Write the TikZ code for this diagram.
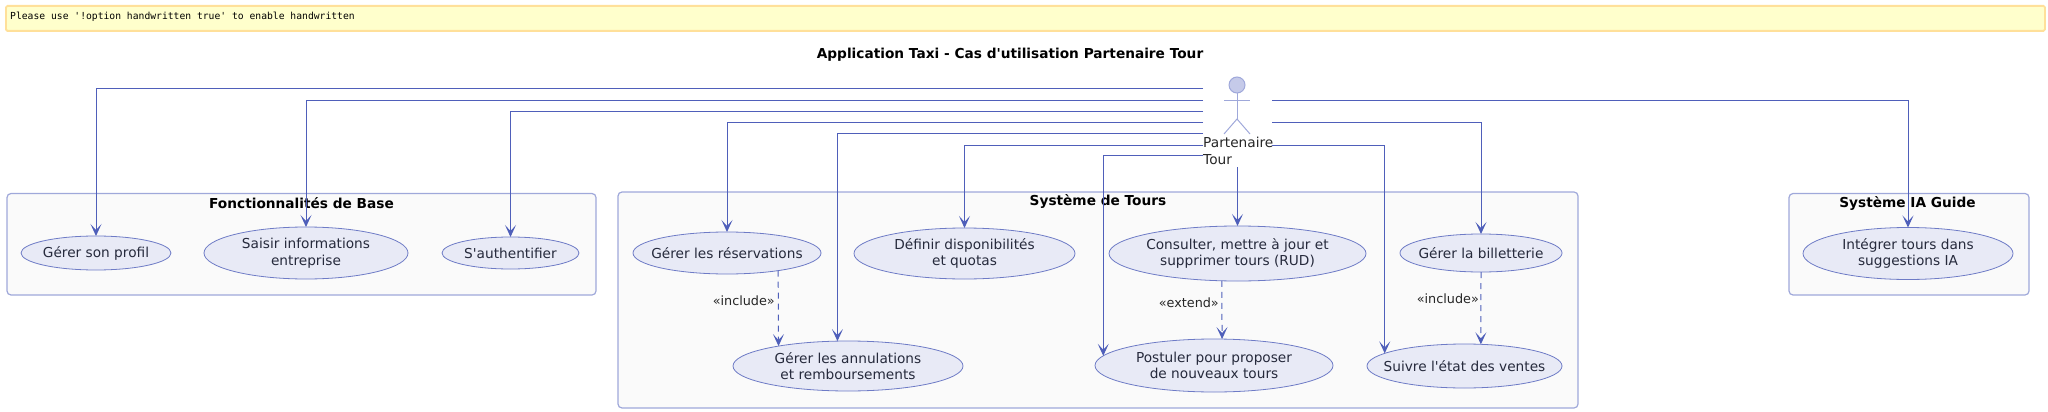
\documentclass[tikz,border=0pt]{standalone}
\usepackage{fontspec}
\newfontfamily\uifont{DejaVu Sans}
\setmonofont{DejaVu Sans Mono}
\usetikzlibrary{arrows.meta,shapes.geometric}
\definecolor{flowblue}{HTML}{4F5FBA}
\definecolor{framepale}{HTML}{9FA8DA}
\definecolor{casefill}{HTML}{E8EAF6}
\definecolor{caseline}{HTML}{6E7BC6}
\definecolor{actorfill}{HTML}{C5CAE9}
\definecolor{notefill}{HTML}{FFFFCC}
\definecolor{noteline}{HTML}{FFE09A}
\definecolor{casetext}{HTML}{262A3C}
\tikzset{
	flow/.style={draw=flowblue, line width=1pt, -{Stealth[length=12pt,width=11pt,inset=6pt]}},
	flowdash/.style={flow, dash pattern=on 6pt off 5pt},
	usecase/.style n args={2}{ellipse, draw=caseline, line width=0.8pt, fill=casefill, text=casetext, align=center, inner xsep=-30pt, inner ysep=-10pt, outer sep=0pt, minimum width=#1pt, minimum height=#2pt, font=\fontsize{13.7}{16.6}\selectfont},
	groupbox/.style={draw=framepale, line width=1.2pt, fill=black!2, rounded corners=4pt},
	grouptitle/.style={font=\bfseries\fontsize{13.7}{16}\selectfont, inner sep=0pt},
	relname/.style={font=\fontsize{12.8}{15}\selectfont, text=black!85, inner sep=0pt, anchor=east},
	stickman/.style={draw=framepale, line width=1pt},
}
\begin{document}
\uifont
\begin{tikzpicture}[x=1pt,y=-1pt]
	\useasboundingbox (0,0) rectangle (2048,412);
	
	\node[draw=noteline, line width=1.8pt, fill=notefill, rounded corners=1.5pt, minimum width=2039pt, minimum height=25pt, inner sep=0pt, anchor=north west](warnbox) at (5,5) {};
	\node[font=\ttfamily\fontsize{9.7}{12}\selectfont, inner sep=0pt, anchor=west](warntext) at (10,16.5) {Please use '!option handwritten true' to enable handwritten};
	\node[font=\bfseries\fontsize{13.7}{16}\selectfont, inner sep=0pt](title) at (1010,54.5) {Application Taxi - Cas d'utilisation Partenaire Tour};
	
	\draw[groupbox](7,193.5) rectangle (596,295);
	\draw[groupbox](618,192) rectangle (1578,408);
	\draw[groupbox](1789,193.5) rectangle (2029,295);
	\node[grouptitle](basetitle) at (301.5,203.5) {Fonctionnalités de Base};
	\node[grouptitle](tourstitle) at (1098,201) {Système de Tours};
	\node[grouptitle](iatitle) at (1907.5,203.5) {Système IA Guide};
	
	\node[usecase={150}{34}](profil) at (96,253) {Gérer son profil};
	\node[usecase={204}{52}](saisir) at (306,253) {Saisir informations\\entreprise};
	\node[usecase={137}{32}](auth) at (510.5,253) {S'authentifier};
	\node[usecase={188}{42}](reserv) at (727,253) {Gérer les réservations};
	\node[usecase={221}{51}](dispo) at (964.5,253.5) {Définir disponibilités\\et quotas};
	\node[usecase={257}{55}](consult) at (1237.5,253.5) {Consulter, mettre à jour et\\supprimer tours (RUD)};
	\node[usecase={162}{38}](billet) at (1481,253) {Gérer la billetterie};
	\node[usecase={230}{50}](annul) at (848,366) {Gérer les annulations\\et remboursements};
	\node[usecase={238}{53}](postul) at (1214,365.5) {Postuler pour proposer\\de nouveaux tours};
	\node[usecase={195}{44}](suivi) at (1464.5,366) {Suivre l'état des ventes};
	\node[usecase={210}{52}](integ) at (1908,253.5) {Intégrer tours dans\\suggestions IA};
	
	\draw[stickman, fill=actorfill](1237,85) circle (8);
	\draw[stickman](1237,93)--(1237,119);
	\draw[stickman](1224,100.3)--(1250,100.3);
	\draw[stickman](1224,134)--(1237,119)--(1250,134);
	\node[font=\fontsize{13.7}{16.6}\selectfont, text=black!85, align=left, inner sep=0pt, anchor=west](partner) at (1203,151) {Partenaire\\Tour};
	
	\coordinate[](outa) at (1203,88.7);
	\coordinate[](outb) at (1203,100.3);
	\coordinate[](outc) at (1203,111);
	\coordinate[](outd) at (1203,122.7);
	\coordinate[](oute) at (1203,133.7);
	\coordinate[](outf) at (1203,145);
	\coordinate[](outg) at (1203,155.7);
	\coordinate[](outh) at (1237.5,167);
	\coordinate[](outi) at (1272,122.7);
	\coordinate[](outj) at (1272,145);
	\coordinate[](outk) at (1272,100.3);
	
	\draw[flow](outa) -| (profil.north);
	\draw[flow](outb) -| (saisir.north);
	\draw[flow](outc) -| (auth.north);
	\draw[flow](outd) -| (reserv.north);
	\draw[flow](oute) -| (annul.113.8);
	\draw[flow](outf) -| (dispo.north);
	\draw[flow](outg) -| (postul.175.4);
	\draw[flow](outh) -- (consult.north);
	\draw[flow](outi) -| (billet.north);
	\draw[flow](outj) -| (suivi.171.6);
	\draw[flow](outk) -| (integ.north);
	
	\draw[flowdash](reserv.-19.6) -- (annul.164.5);
	\draw[flowdash](consult.-120) -- (postul.73.7);
	\draw[flowdash](billet.south) -- (suivi.53.3);
	
	\node[relname](incla) at (775,300.7) {«include»};
	\node[relname](exta) at (1219,302.7) {«extend»};
	\node[relname](inclb) at (1479,299) {«include»};
\end{tikzpicture}
\end{document}
